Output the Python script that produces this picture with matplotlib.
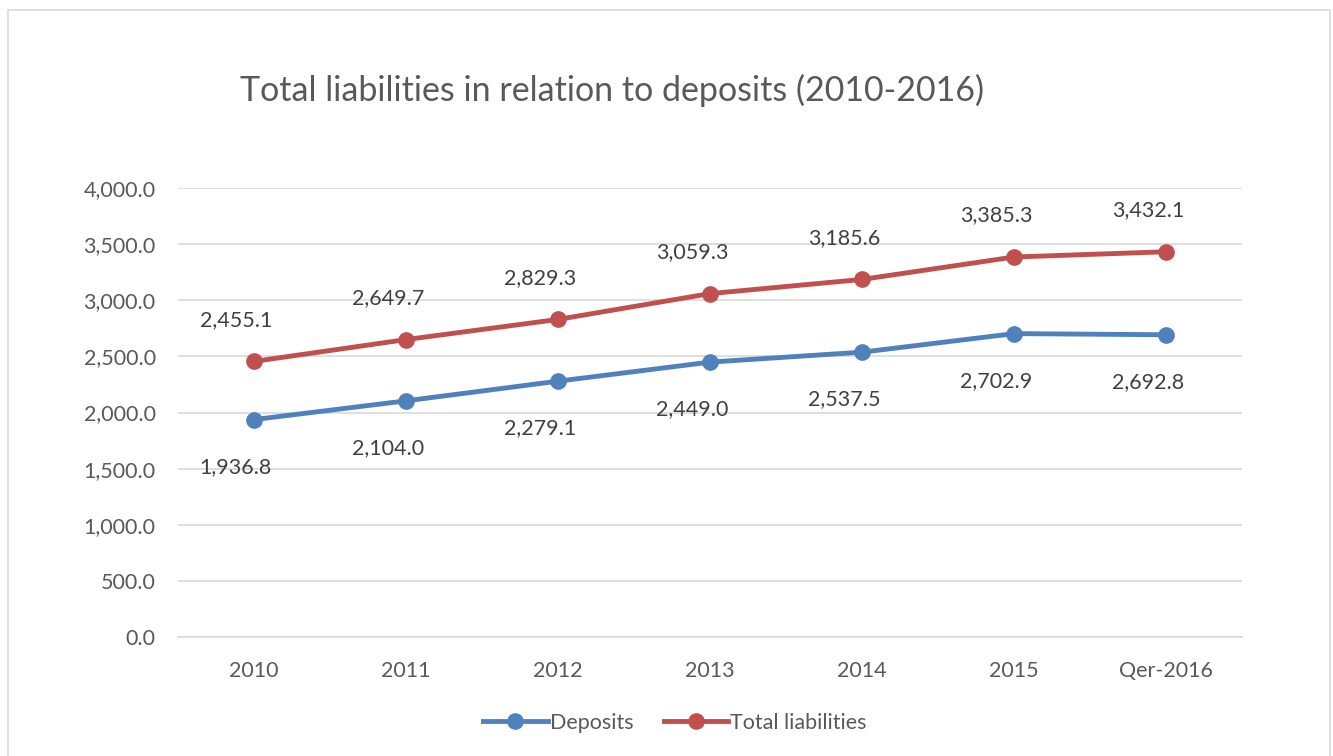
import matplotlib.pyplot as plt
from matplotlib.patches import Rectangle

categories = ["2010", "2011", "2012", "2013", "2014", "2015", "Qer-2016"]
deposits = [1936.8, 2104.0, 2279.1, 2449.0, 2537.5, 2702.9, 2692.8]
liabilities = [2455.1, 2649.7, 2829.3, 3059.3, 3185.6, 3385.3, 3432.1]

plt.rcParams['font.family'] = ['Lato', 'DejaVu Sans']
grey = '#595959'
blue = '#4f81bd'
red = '#c0504d'

fig = plt.figure(figsize=(13.33, 7.56), dpi=100)
fig.patches.append(Rectangle((8 / 1333, -0.1), (1322 / 1333), 1.1 - 10 / 756,
                             transform=fig.transFigure, fill=False,
                             edgecolor='#d9d9d9', linewidth=1.2))
ax = fig.add_axes([0.1335, 0.1574, 0.7982, 0.5939])

x = range(len(categories))
ax.plot(x, deposits, color=blue, linewidth=3.5, marker='o', markersize=11,
        label='Deposits', zorder=3)
ax.plot(x, liabilities, color=red, linewidth=3.5, marker='o', markersize=11,
        label='Total liabilities', zorder=3)

# excel puts the labels a bit to the left of the points
for i in x:
    ax.annotate(f"{deposits[i]:,.1f}", (i, deposits[i]), xytext=(-13, -34),
                textcoords='offset points', ha='center', va='center',
                fontsize=15.5, color='#404040')
    ax.annotate(f"{liabilities[i]:,.1f}", (i, liabilities[i]), xytext=(-13, 30),
                textcoords='offset points', ha='center', va='center',
                fontsize=15.5, color='#404040')

ax.set_xlim(-0.5, 6.5)
ax.set_ylim(0, 4000)
ax.set_yticks(range(0, 4001, 500))
ax.set_yticklabels([f"{v:,.1f}" for v in range(0, 4001, 500)])
ax.set_xticks(list(x))
ax.set_xticklabels(categories)
ax.grid(axis='y', color='#d9d9d9', linewidth=1.2)
ax.set_axisbelow(True)
for s in ['top', 'right', 'left']:
    ax.spines[s].set_visible(False)
ax.spines['bottom'].set_color('#d9d9d9')
ax.spines['bottom'].set_linewidth(1.2)
ax.tick_params(axis='both', length=0, labelsize=15.5, labelcolor=grey)
ax.tick_params(axis='x', pad=17)
ax.tick_params(axis='y', pad=16)

fig.text(240 / 1333, 1 - 90 / 756, "Total liabilities in relation to deposits (2010-2016)",
         fontsize=24.5, color=grey, ha='left', va='center')

fig.legend(loc='center', bbox_to_anchor=(675 / 1333, 1 - 723 / 756), ncol=2,
           frameon=False, fontsize=15.5, labelcolor=grey, handlelength=3.0,
           handletextpad=0.1, columnspacing=1.4)

fig.savefig('out.png', dpi=100)
